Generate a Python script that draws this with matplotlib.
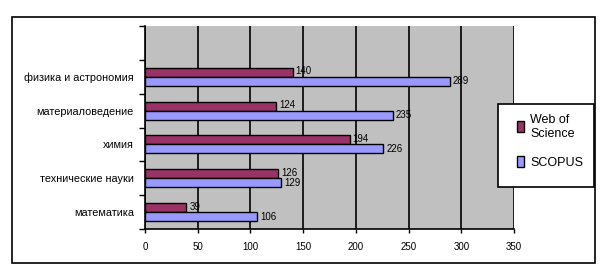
import matplotlib
matplotlib.use("Agg")
import matplotlib.pyplot as plt
from matplotlib.patches import Rectangle
from matplotlib.ticker import FixedLocator

plt.rcParams['font.family'] = ['Liberation Sans', 'DejaVu Sans']

categories = ["математика", "технические науки", "химия", "материаловедение", "физика и астрономия"]
wos = [39, 126, 194, 124, 140]
scopus = [106, 129, 226, 235, 289]
series_names = ["Web of\nScience", "SCOPUS"]
xticks = [0, 50, 100, 150, 200, 250, 300, 350]

c_wos = "#993366"
c_sc = "#9999FF"

fig = plt.figure(figsize=(6.07, 2.77), dpi=100)
fig.patch.set_facecolor("white")
fig.patches.append(Rectangle((12/607, 1-263/277), 583/607, 246/277, transform=fig.transFigure,
                             fill=False, edgecolor="black", lw=1.2))

ax = fig.add_axes([145/607, 1-229/277, 369/607, 203/277])
ax.set_facecolor("#C0C0C0")
h = 0.265
ys = list(range(len(categories)))
b1 = ax.barh([y + h/2 for y in ys], wos, height=h, color=c_wos, edgecolor="black", lw=1, zorder=3)
b2 = ax.barh([y - h/2 for y in ys], scopus, height=h, color=c_sc, edgecolor="black", lw=1, zorder=3)
for y, v in zip(ys, wos):
    ax.text(v + 3, y + h/2 + 0.03, str(v), fontsize=7, va="center", ha="left", zorder=4)
for y, v in zip(ys, scopus):
    ax.text(v + 3, y - h/2, str(v), fontsize=7, va="center", ha="left", zorder=4)

ax.set_xlim(0, 350)
ax.set_ylim(-0.5, 5.5)
ax.set_xticks(xticks)
ax.set_xticklabels([str(t) for t in xticks], fontsize=7)
ax.xaxis.grid(True, color="black", lw=1.2, zorder=1)
ax.set_axisbelow(True)
ax.tick_params(axis="x", length=3, width=1, direction="out", pad=6)
ax.yaxis.set_major_locator(FixedLocator([i - 0.5 for i in range(7)]))
ax.set_yticklabels([])
ax.yaxis.set_minor_locator(FixedLocator(ys))
ax.set_yticklabels(categories, minor=True, fontsize=7.8)
ax.tick_params(axis="y", which="major", length=4, width=1, direction="out")
ax.tick_params(axis="y", which="minor", length=0, pad=8)
for s in ["top", "right"]:
    ax.spines[s].set_visible(False)
for s in ["left", "bottom"]:
    ax.spines[s].set_linewidth(1.2)

# legend box
fig.patches.append(Rectangle((498/607, 1-187/277), 96/607, 83/277, transform=fig.transFigure,
                             facecolor="white", edgecolor="black", lw=1.2, zorder=5))
leg = fig.legend([b1, b2], series_names, loc="upper left",
                 bbox_to_anchor=(508/607, 1-105/277), fontsize=9,
                 frameon=False,
                 handlelength=0.6, handleheight=1.0, handletextpad=0.5,
                 labelspacing=1.3, borderpad=0.2)
leg.set_zorder(6)

fig.savefig("out.png", dpi=100)
